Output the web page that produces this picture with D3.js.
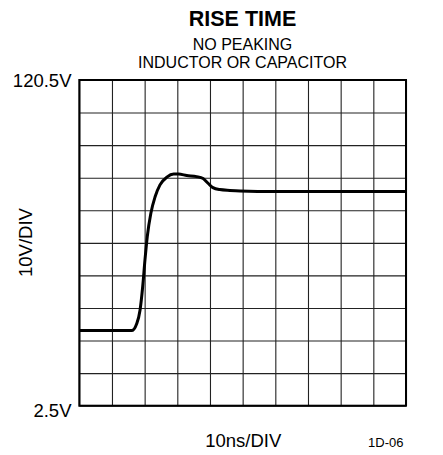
<!DOCTYPE html>
<html>
<head>
<meta charset="utf-8">
<script src="https://cdn.jsdelivr.net/npm/d3@7"></script>
<style>
  body { margin: 0; background: #fff; }
  text { font-family: Arial, "Liberation Sans", Helvetica, sans-serif; fill: #000; }
</style>
</head>
<body>
<div id="chart"></div>
<script>
// trace (time in ns, level in volts)
const timeNs = [0, 16.0, 17.6, 18.6, 19.4, 20.1, 20.8, 21.9, 23.2, 24.7, 26.8, 28.9, 30.4, 32.9, 35.9, 37.9, 39.4, 40.9, 43.0, 46.1, 49.2, 60, 100];
const volts  = [29.7, 29.7, 32.3, 37.2, 45.6, 55.3, 63.7, 72.2, 78.2, 82.5, 85.3, 86.4, 86.4, 85.9, 85.5, 84.8, 83.1, 81.5, 80.8, 80.5, 80.3, 80.1, 80.1];

const xDomain = [0, 100];
const yDomain = [2.5, 120.5];
const yLabels = ["120.5V", "2.5V"];
const divisions = 10;

const width = 443, height = 455;
const margin = { top: 80, right: 37, bottom: 49.3, left: 79.3 };
const innerW = width - margin.left - margin.right;
const innerH = height - margin.top - margin.bottom;

const svg = d3.select("#chart").append("svg")
  .attr("width", width)
  .attr("height", height);

const x = d3.scaleLinear().domain(xDomain).range([margin.left, margin.left + innerW]);
const y = d3.scaleLinear().domain(yDomain).range([margin.top + innerH, margin.top]);

const xTicks = d3.range(0, divisions + 1).map(i => xDomain[0] + i * (xDomain[1] - xDomain[0]) / divisions);
const yTicks = d3.range(0, divisions + 1).map(i => yDomain[0] + i * (yDomain[1] - yDomain[0]) / divisions);

// grid
svg.append("g")
  .attr("transform", `translate(0,${margin.top + innerH})`)
  .call(d3.axisBottom(x).tickValues(xTicks).tickSize(-innerH).tickFormat(""))
  .call(g => g.select(".domain").remove())
  .call(g => g.selectAll("line").attr("stroke", "#222").attr("stroke-width", 1.1));

svg.append("g")
  .attr("transform", `translate(${margin.left},0)`)
  .call(d3.axisLeft(y).tickValues(yTicks).tickSize(-innerW).tickFormat(""))
  .call(g => g.select(".domain").remove())
  .call(g => g.selectAll("line").attr("stroke", "#222").attr("stroke-width", 1.1));

// frame
svg.append("rect")
  .attr("x", x(xDomain[0]))
  .attr("y", y(yDomain[1]))
  .attr("width", x(xDomain[1]) - x(xDomain[0]))
  .attr("height", y(yDomain[0]) - y(yDomain[1]))
  .attr("fill", "none")
  .attr("stroke", "#000")
  .attr("stroke-width", 2);

// trace
const line = d3.line()
  .x(d => x(d[0]))
  .y(d => y(d[1]))
  .curve(d3.curveMonotoneX);

svg.append("path")
  .datum(timeNs.map((t, i) => [t, volts[i]]))
  .attr("d", line)
  .attr("fill", "none")
  .attr("stroke", "#000")
  .attr("stroke-width", 3)
  .attr("stroke-linejoin", "round");

// titles
svg.append("text")
  .attr("x", 242.5).attr("y", 26)
  .attr("text-anchor", "middle")
  .style("font-size", "21.5px").style("font-weight", "bold")
  .text("RISE TIME");
svg.append("text")
  .attr("x", 242.5).attr("y", 50)
  .attr("text-anchor", "middle")
  .style("font-size", "16px")
  .text("NO PEAKING");
svg.append("text")
  .attr("x", 242.5).attr("y", 67.5)
  .attr("text-anchor", "middle")
  .style("font-size", "16px")
  .text("INDUCTOR OR CAPACITOR");

// y labels
svg.append("text")
  .attr("x", 71.5).attr("y", y(yDomain[1]) + 6.7)
  .attr("text-anchor", "end")
  .style("font-size", "18.5px")
  .text(yLabels[0]);
svg.append("text")
  .attr("x", 71.5).attr("y", y(yDomain[0]) + 11)
  .attr("text-anchor", "end")
  .style("font-size", "18.5px")
  .text(yLabels[1]);

svg.append("text")
  .attr("transform", `translate(31.7,242.5) rotate(-90)`)
  .attr("text-anchor", "middle")
  .style("font-size", "18.5px")
  .text("10V/DIV");

svg.append("text")
  .attr("x", 243.3).attr("y", 447.3)
  .attr("text-anchor", "middle")
  .style("font-size", "18.5px")
  .text("10ns/DIV");

svg.append("text")
  .attr("x", 403.5).attr("y", 447.3)
  .attr("text-anchor", "end")
  .style("font-size", "13px")
  .text("1D-06");
</script>
</body>
</html>
